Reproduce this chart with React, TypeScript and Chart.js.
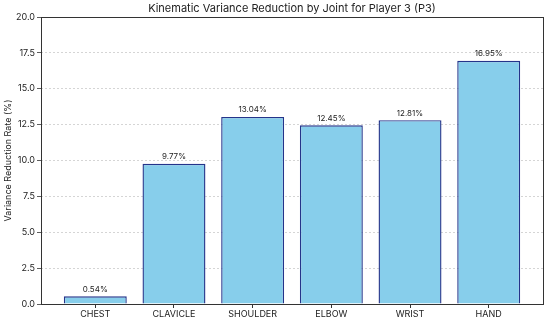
import React, { useEffect, useRef } from "react";
import { Chart, registerables } from "chart.js";

Chart.register(...registerables);

const categories = ["CHEST", "CLAVICLE", "SHOULDER", "ELBOW", "WRIST", "HAND"];
const reductionRates = [0.54, 9.77, 13.04, 12.45, 12.81, 16.95];
const yTicks = [0, 2.5, 5, 7.5, 10, 12.5, 15, 17.5, 20];
const titleText = "Kinematic Variance Reduction by Joint for Player 3 (P3)";
const yAxisTitle = "Variance Reduction Rate (%)";

const FONT = "Inter, 'Noto Sans', sans-serif";

export default function App() {
  const ref = useRef<HTMLCanvasElement | null>(null);

  useEffect(() => {
    document.body.style.margin = "0";
    const canvas = ref.current;
    if (!canvas) return;

    const overlay = {
      id: "overlay",
      afterDraw(chart: any) {
        const { ctx, chartArea } = chart;
        const { left, right, top, bottom } = chartArea;
        ctx.save();
        // frame
        ctx.strokeStyle = "#333";
        ctx.lineWidth = 1;
        ctx.strokeRect(Math.round(left) + 0.5, Math.round(top) + 0.5, Math.round(right - left), Math.round(bottom - top));
        // title
        ctx.fillStyle = "#222";
        ctx.font = `11px ${FONT}`;
        ctx.textAlign = "center";
        ctx.textBaseline = "middle";
        ctx.fillText(titleText, (left + right) / 2, 9);
        // value labels
        const meta = chart.getDatasetMeta(0);
        ctx.font = `8px ${FONT}`;
        ctx.fillStyle = "#222";
        ctx.textBaseline = "bottom";
        meta.data.forEach((bar: any, i: number) => {
          ctx.fillText(reductionRates[i].toFixed(2) + "%", bar.x, bar.y - 3);
        });
        ctx.restore();
      },
    };

    const chart = new Chart(canvas, {
      type: "bar",
      data: {
        datasets: [
          {
            data: reductionRates.map((v, i) => ({ x: i, y: v })),
            backgroundColor: "#87CEEB",
            borderColor: "#24348a",
            borderWidth: 1.4,
            barPercentage: 0.8,
            categoryPercentage: 1,
          },
        ],
      },
      options: {
        responsive: false,
        animation: false,
        layout: { padding: { top: 17, right: 7, left: 0, bottom: 0 } },
        plugins: {
          legend: { display: false },
          title: { display: false },
          tooltip: { enabled: false },
        },
        scales: {
          x: {
            type: "linear",
            min: -0.69,
            max: 5.69,
            offset: false,
            afterBuildTicks: (scale: any) => {
              scale.ticks = categories.map((_, i) => ({ value: i }));
            },
            afterFit: (scale: any) => {
              scale.height = 20;
            },
            ticks: {
              autoSkip: false,
              maxRotation: 0,
              padding: 1,
              color: "#222",
              font: { family: FONT, size: 9 },
              callback: (v: any) => categories[v as number] ?? "",
            },
            grid: {
              offset: false,
              drawOnChartArea: false,
              drawTicks: true,
              tickLength: 4,
              tickColor: "#333",
            },
            border: { display: false },
          },
          y: {
            min: 0,
            max: 20,
            afterBuildTicks: (scale: any) => {
              scale.ticks = yTicks.map((v) => ({ value: v }));
            },
            afterFit: (scale: any) => {
              scale.width = 41;
            },
            ticks: {
              padding: 2,
              color: "#222",
              font: { family: FONT, size: 9 },
              callback: (v: any) => Number(v).toFixed(1),
            },
            grid: {
              color: "rgba(180,180,180,0.7)",
              tickColor: "#333",
              tickLength: 4,
              tickBorderDash: [],
              lineWidth: 0.8,
            },
            border: { display: false, dash: [2, 2] },
            title: {
              display: true,
              text: yAxisTitle,
              color: "#222",
              font: { family: FONT, size: 9 },
              padding: { top: 3, bottom: 0 },
            },
          },
        },
      },
      plugins: [overlay],
    });

    return () => chart.destroy();
  }, []);

  return (
    <div style={{ width: 550, height: 324 }}>
      <canvas ref={ref} width={550} height={324} style={{ display: "block" }} />
    </div>
  );
}
